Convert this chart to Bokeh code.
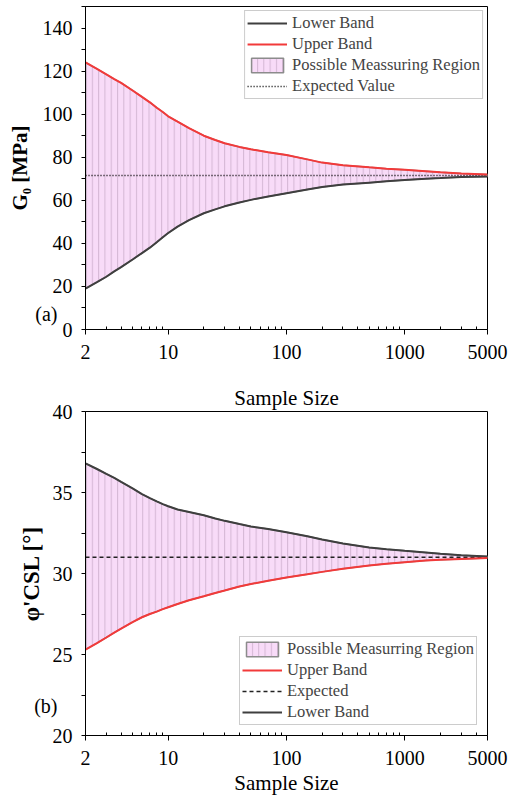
from bokeh.plotting import figure
from bokeh.models import (Range1d, FixedTicker, NumeralTickFormatter,
                          Legend, LegendItem, Title)
from bokeh.layouts import column
from bokeh.embed import file_html
from bokeh.resources import INLINE

# ---------------- data ----------------
sample_size = [2, 2.5, 3, 3.5, 4, 5, 6, 7, 8, 9, 10, 12, 15, 20, 25, 30, 40, 50, 70, 100,
               150, 200, 300, 500, 700, 1000, 1500, 2000, 3000, 5000]

g0_upper = [124, 121, 118.5, 116.3, 114.5, 111, 108, 105.5, 103, 101, 99, 96.5, 93.5, 90,
            88, 86.5, 84.8, 83.7, 82.3, 81, 79, 77.5, 76.3, 75.3, 74.7, 74.2, 73.5, 73,
            72.5, 72]
g0_lower = [19, 22, 24.5, 27, 29, 32.5, 35.5, 38, 40.5, 42.8, 44.8, 47.8, 50.8, 54, 55.8,
            57.2, 59, 60.2, 61.8, 63.3, 65, 66.2, 67.3, 68.2, 68.8, 69.4, 70, 70.3, 70.8,
            71]
g0_expected = 71.5

phi_dark = [36.8, 36.45, 36.15, 35.9, 35.65, 35.25, 34.9, 34.65, 34.45, 34.28, 34.15,
            33.95, 33.8, 33.6, 33.4, 33.25, 33.05, 32.9, 32.75, 32.55, 32.3, 32.1, 31.85,
            31.6, 31.5, 31.4, 31.3, 31.22, 31.12, 31.05]
phi_red = [25.3, 25.7, 26.05, 26.35, 26.6, 27.0, 27.3, 27.5, 27.65, 27.8, 27.92, 28.12,
           28.35, 28.6, 28.8, 28.95, 29.2, 29.35, 29.55, 29.75, 29.95, 30.1, 30.3, 30.5,
           30.6, 30.7, 30.8, 30.85, 30.9, 30.95]
phi_expected = 31.0

x_major = [2, 10, 100, 1000, 5000]
x_minor = [3, 4, 5, 6, 7, 8, 9, 20, 30, 40, 50, 60, 70, 80, 90,
           200, 300, 400, 500, 600, 700, 800, 900, 2000, 3000, 4000]

g0_ticks = [0, 20, 40, 60, 80, 100, 120, 140]
g0_tick_marks = [0, 10, 20, 30, 40, 50, 60, 70, 80, 90, 100, 110, 120, 130, 140, 150]
phi_ticks = [20, 25, 30, 35, 40]
phi_tick_marks = [20, 22.5, 25, 27.5, 30, 32.5, 35, 37.5, 40]

# panel tags, written in the y-axis label column (y position -> text)
NB = "\u00a0"
panel_a_tag = {7.4: "(a)" + NB * 3}
panel_b_tag = {21.85: "(b)" + NB * 3}

FONT = "Liberation Serif"
RED = "#f23a3a"
DARK = "#3f3f3f"
FILL = "#f8dbf8"
HATCH = "#d4b6d4"


def base_fig(height, yr, yticks, ymarks, tag, border_top, border_bottom):
    p = figure(width=510, height=height, x_axis_type="log",
               x_range=Range1d(2, 5000), y_range=Range1d(*yr),
               output_backend="svg", toolbar_location=None,
               min_border_left=85, min_border_right=23,
               min_border_top=border_top, min_border_bottom=border_bottom)
    p.grid.visible = False
    p.outline_line_color = "black"
    p.outline_line_alpha = 1
    p.outline_line_width = 1
    p.background_fill_color = "white"
    p.border_fill_color = "white"

    xa = p.xaxis[0]
    xa.ticker = FixedTicker(ticks=x_major, minor_ticks=x_minor)
    xa.formatter = NumeralTickFormatter(format="0")
    xa.major_tick_out = 5
    xa.major_tick_in = 0
    xa.minor_tick_in = 3
    xa.minor_tick_out = 0
    xa.major_label_standoff = 10
    xa.major_tick_line_color = "black"
    xa.minor_tick_line_color = "black"

    ya = p.yaxis[0]
    ya.ticker = FixedTicker(ticks=list(yticks) + list(tag.keys()), minor_ticks=ymarks)
    ya.major_label_overrides = dict(tag)
    ya.major_tick_out = 5
    ya.major_tick_in = 0
    ya.major_tick_line_color = None       # tick marks are drawn by the mark list
    ya.minor_tick_out = 4
    ya.minor_tick_in = 0
    ya.minor_tick_line_color = "black"
    ya.major_label_standoff = 8

    for ax in (xa, ya):
        ax.axis_line_color = "black"
        ax.major_label_text_font = FONT
        ax.major_label_text_font_size = "20px"
        ax.major_label_text_color = "black"
        ax.axis_label_text_font = FONT
        ax.axis_label_text_font_size = "21px"
        ax.axis_label_text_color = "black"
        ax.axis_label_text_font_style = "normal"
    return p


def region(p, upper, lower):
    xs = list(sample_size) + list(reversed(sample_size))
    ys = list(upper) + list(reversed(lower))
    return p.patch(xs, ys, fill_color=FILL, fill_alpha=1, line_color="#8c8c8c",
                   line_width=1.5, hatch_pattern="vertical_line", hatch_color=HATCH,
                   hatch_scale=6.3, hatch_weight=1)


def make_legend(items, location, margin):
    return Legend(items=items, location=location, border_line_color="#9a9a9a",
                  border_line_width=1, background_fill_color="white",
                  background_fill_alpha=1, label_text_font=FONT,
                  label_text_font_size="16.5px", glyph_width=40, glyph_height=18,
                  label_height=18, spacing=1, padding=2, margin=margin, label_standoff=5)


# ---------------- top panel (a) ----------------
p1 = base_fig(363, (0, 150), g0_ticks, g0_tick_marks, panel_a_tag, 6, 34)
p1.yaxis[0].axis_label = "G₀ [MPa]"
p1.yaxis[0].axis_label_text_font_style = "bold"
p1.yaxis[0].axis_label_standoff = 0

r_reg1 = region(p1, g0_upper, g0_lower)
r_exp1 = p1.line(sample_size, [g0_expected] * len(sample_size), line_color="black",
                 line_width=1.5, line_dash="1 2")
r_low1 = p1.line(sample_size, g0_lower, line_color=DARK, line_width=2)
r_up1 = p1.line(sample_size, g0_upper, line_color=RED, line_width=2)

leg1 = make_legend([
    LegendItem(label="Lower Band", renderers=[r_low1]),
    LegendItem(label="Upper Band", renderers=[r_up1]),
    LegendItem(label="Possible Meassuring Region", renderers=[r_reg1]),
    LegendItem(label="Expected Value", renderers=[r_exp1]),
], "top_right", 4)
p1.add_layout(leg1)

# ---------------- bottom panel (b) ----------------
p2 = base_fig(437, (20, 40), phi_ticks, phi_tick_marks, panel_b_tag, 48, 65)
p2.xaxis[0].axis_label = "Sample Size"
p2.xaxis[0].axis_label_standoff = 3
p2.yaxis[0].axis_label = "φ'CSL [°]"
p2.yaxis[0].axis_label_text_font_style = "bold"
p2.yaxis[0].axis_label_text_font_size = "23px"
p2.yaxis[0].axis_label_standoff = -13

# x-axis title of panel (a), carried in the band above panel (b)
p2.add_layout(Title(text="Sample Size", align="center", text_font=FONT,
                    text_font_size="21px", text_font_style="normal",
                    text_color="black", standoff=4), "above")

r_reg2 = region(p2, phi_dark, phi_red)
r_exp2 = p2.line(sample_size, [phi_expected] * len(sample_size), line_color="#222222",
                 line_width=1.5, line_dash="4 3")
r_dark2 = p2.line(sample_size, phi_dark, line_color=DARK, line_width=2)
r_red2 = p2.line(sample_size, phi_red, line_color=RED, line_width=2)

leg2 = make_legend([
    LegendItem(label="Possible Measurring Region", renderers=[r_reg2]),
    LegendItem(label="Upper Band", renderers=[r_red2]),
    LegendItem(label="Expected", renderers=[r_exp2]),
    LegendItem(label="Lower Band", renderers=[r_dark2]),
], "bottom_right", 10)
p2.add_layout(leg2)

layout = column(p1, p2, spacing=0)
open("out.html", "w").write(file_html(layout, INLINE))
